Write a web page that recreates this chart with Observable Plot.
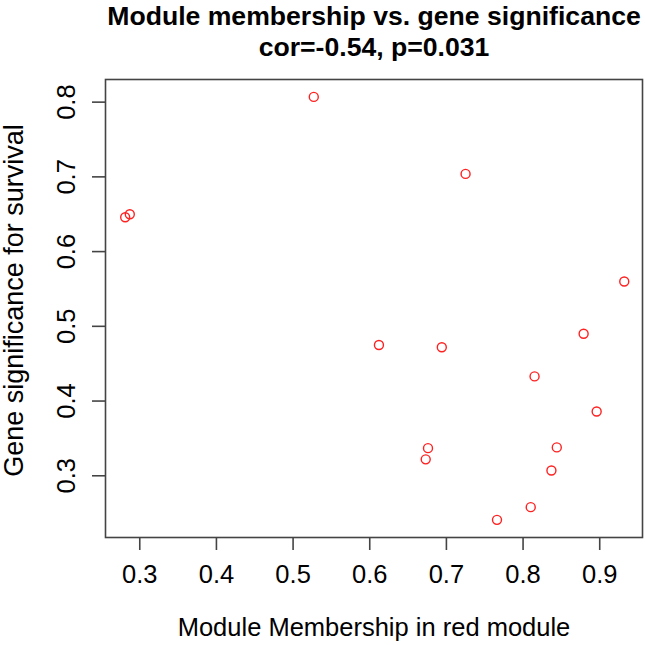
<!DOCTYPE html>
<html>
<head>
<meta charset="utf-8">
<script src="https://cdn.jsdelivr.net/npm/d3@7"></script>
<script src="https://cdn.jsdelivr.net/npm/@observablehq/plot@0.6"></script>
<style>
  html, body { margin: 0; padding: 0; background: #fff; }
</style>
</head>
<body>
<div id="chart"></div>
<script>
const titleLines = ["Module membership vs. gene significance", "cor=-0.54, p=0.031"];
const xLabel = "Module Membership in red module";
const yLabel = "Gene significance for survival";

const membership = [0.527, 0.281, 0.287, 0.725, 0.932, 0.879, 0.612, 0.694, 0.815, 0.896, 0.676, 0.673, 0.844, 0.837, 0.810, 0.766];
const significance = [0.807, 0.646, 0.650, 0.704, 0.560, 0.490, 0.475, 0.472, 0.433, 0.386, 0.337, 0.322, 0.338, 0.307, 0.258, 0.241];

const xTicks = [0.3, 0.4, 0.5, 0.6, 0.7, 0.8, 0.9];
const yTicks = [0.3, 0.4, 0.5, 0.6, 0.7, 0.8];

const points = membership.map((m, i) => ({m, g: significance[i]}));

const font = "'Liberation Sans', Arial, sans-serif";
const axisColor = "#444";

const chart = Plot.plot({
  width: 645,
  height: 645,
  marginLeft: 105,
  marginRight: 3,
  marginTop: 79,
  marginBottom: 108,
  style: {fontFamily: font, fontSize: "25.5px", color: "#000", background: "#fff"},
  x: {domain: [0.2553, 0.9558]},
  y: {domain: [0.2174, 0.8303]},
  marks: [
    Plot.frame({stroke: axisColor, strokeWidth: 1.6}),
    Plot.axisX({ticks: xTicks, tickSize: 13, tickPadding: 14, tickFormat: d => d.toFixed(1), label: null, stroke: axisColor, strokeWidth: 1.6, fontSize: 25.5, fill: "#000"}),
    Plot.axisY({ticks: yTicks, tickSize: 13, tickFormat: () => "", label: null, stroke: axisColor, strokeWidth: 1.6}),
    Plot.text(yTicks, {y: d => d, text: d => d.toFixed(1), frameAnchor: "left", textAnchor: "middle", dx: -39, rotate: -90, fontSize: 25.5, fill: "#000"}),
    Plot.dot(points, {x: "m", y: "g", r: 4.5, stroke: "#ff2020", strokeWidth: 1.4, fill: "none"}),
    Plot.text([xLabel], {text: d => d, frameAnchor: "bottom", dy: 98, fontSize: 25.5, fill: "#000"}),
    Plot.text([yLabel], {text: d => d, frameAnchor: "left", textAnchor: "middle", dx: -91, dy: -8, rotate: -90, fontSize: 27, fill: "#000"}),
    Plot.text([titleLines[0]], {text: d => d, frameAnchor: "top", dy: -73, fontSize: 26.6, fontWeight: "bold", fill: "#000"}),
    Plot.text([titleLines[1]], {text: d => d, frameAnchor: "top", dy: -42, fontSize: 26.6, fontWeight: "bold", fill: "#000"})
  ]
});
document.getElementById("chart").appendChild(chart);
</script>
</body>
</html>
